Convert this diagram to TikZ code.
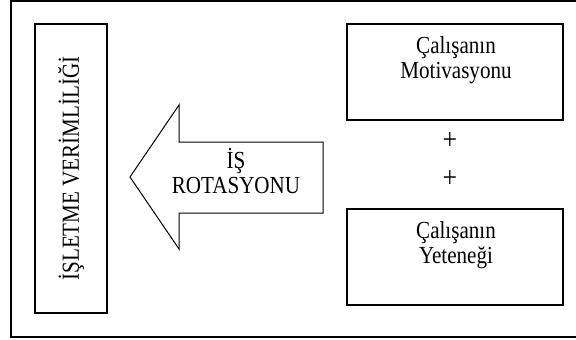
\documentclass[tikz,border=0pt]{standalone}
\usepackage{fontspec}
\setmainfont[FakeStretch=0.86]{Liberation Serif}
\begin{document}
\begin{tikzpicture}[x=1pt,y=-1pt,
  box/.style={draw, line width=1.2pt, inner sep=0pt},
  lbl/.style={font=\fontsize{24.5}{25}\selectfont, align=center, inner sep=0pt},
  plus/.style={font=\fontsize{30}{30}\selectfont, inner sep=0pt},
]
\useasboundingbox (0,0) rectangle (576,340);
% outer frame
\draw[line width=1.2pt] (11,1) rectangle (582,337);

% left column: result
\node[box, rotate=90, minimum width=289pt, minimum height=72pt, lbl] (verim) at (71,168.5) {İŞLETME VERİMLİLİĞİ};

% right column: the two inputs
\node[box, minimum width=216pt, minimum height=96pt] (mot) at (455,72) {};
\node[lbl] (motl) at (456,60.5) {Çalışanın\\Motivasyonu};
\node[box, minimum width=216pt, minimum height=96pt] (yet) at (455,257) {};
\node[lbl] (yetl) at (456,245.5) {Çalışanın\\Yeteneği};

\node[plus] (p1) at (450,141.5) {+};
\node[plus] (p2) at (450,179.5) {+};

% block arrow pointing at the result
\draw[line width=1pt, line join=miter] (323,142) -- (179,142) -- (179,105) -- (130,177)
  -- (179,249) -- (179,213) -- (323,213) -- cycle;
\node[lbl] (rot) at (236,171) {İŞ\\ROTASYONU};
\end{tikzpicture}
\end{document}
